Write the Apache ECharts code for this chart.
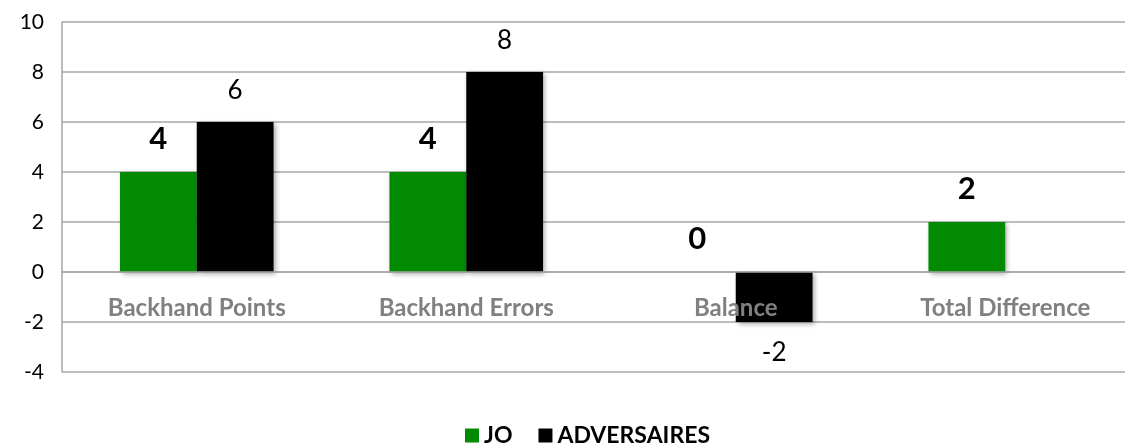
<!DOCTYPE html>
<html lang="en">
<head>
    <meta charset="UTF-8">
    <script src="https://cdn.jsdelivr.net/npm/echarts@6/dist/echarts.min.js"></script>
    <title>Backhand</title>
    <style>
        html, body { margin: 0; padding: 0; background: #fff; }
    </style>
</head>
<body>
    <div id="main" style="width: 1125px; height: 445px;"></div>
    <script>
        var categories = ['Backhand Points', 'Backhand Errors', 'Balance', 'Total Difference'];
        var joValues = [4, 4, 0, 2];
        var advValues = [6, 8, -2, '-'];
        var yTicks = { min: -4, max: 10, step: 2 };

        var FONT = 'Lato, "Open Sans", sans-serif';
        var GREEN = '#038a03';
        var BLACK = '#000000';

        // negative bars get their label underneath
        function withLabels(values) {
            return values.map(function (v) {
                if (v === '-') return v;
                return {
                    value: v,
                    label: { position: v < 0 ? 'bottom' : 'top' }
                };
            });
        }

        var barShadow = {
            shadowColor: 'rgba(0,0,0,0.35)',
            shadowBlur: 5,
            shadowOffsetX: 2,
            shadowOffsetY: 2
        };

        var myChart = echarts.init(document.getElementById('main'));
        var option = {
            animation: false,
            textStyle: { fontFamily: FONT },
            grid: {
                left: 62,
                right: -15,
                top: 22,
                bottom: 73,
                outerBoundsMode: 'none',
                containLabel: false
            },
            legend: {
                left: 460,
                bottom: -7,
                itemWidth: 14,
                itemHeight: 14,
                itemGap: 26,
                icon: 'rect',
                textStyle: { fontFamily: FONT, fontSize: 23, fontWeight: 'bold', color: '#000' },
                data: ['JO', 'ADVERSAIRES']
            },
            xAxis: {
                type: 'category',
                data: categories,
                z: 5,
                position: 'bottom',
                offset: -100,          // put the category axis on the 0 line
                axisTick: { show: false },
                axisLine: { onZero: false, lineStyle: { color: '#a6a6a6', width: 1.5 } },
                axisLabel: {
                    margin: 24,
                    fontFamily: FONT,
                    fontSize: 24,
                    fontWeight: 'bold',
                    color: '#808080'
                }
            },
            yAxis: {
                type: 'value',
                min: yTicks.min,
                max: yTicks.max,
                interval: yTicks.step,
                axisLine: { show: true, onZero: false, lineStyle: { color: '#a6a6a6', width: 1.5 } },
                axisTick: { show: false },
                splitLine: { lineStyle: { color: '#a6a6a6', width: 1.5 } },
                axisLabel: {
                    margin: 18,
                    fontFamily: FONT,
                    fontSize: 21,
                    color: '#000'
                }
            },
            series: [
                {
                    name: 'JO',
                    type: 'bar',
                    barGap: 0,
                    barCategoryGap: '43%',
                    itemStyle: Object.assign({ color: GREEN }, barShadow),
                    label: {
                        show: true,
                        distance: 18,
                        fontFamily: FONT,
                        fontSize: 31,
                        fontWeight: 'bold',
                        color: '#000'
                    },
                    data: withLabels(joValues)
                },
                {
                    name: 'ADVERSAIRES',
                    type: 'bar',
                    barGap: 0,
                    barCategoryGap: '43%',
                    itemStyle: Object.assign({ color: BLACK }, barShadow),
                    label: {
                        show: true,
                        distance: 18,
                        fontFamily: FONT,
                        fontSize: 26,
                        color: '#000'
                    },
                    data: withLabels(advValues)
                }
            ]
        };
        myChart.setOption(option);
    </script>
</body>
</html>
